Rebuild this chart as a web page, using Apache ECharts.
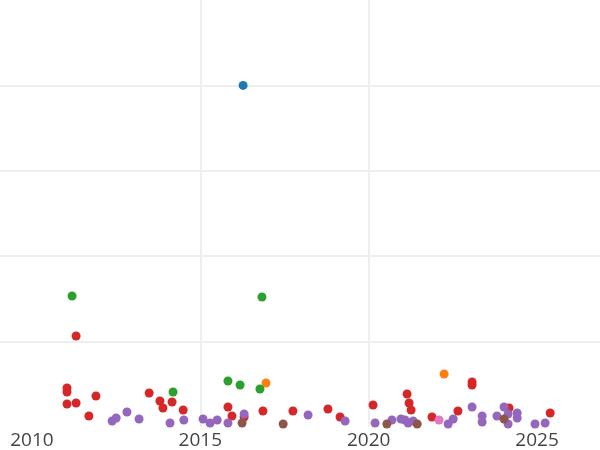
<!DOCTYPE html>
<html>
<head>
<meta charset="utf-8">
<script src="https://cdn.jsdelivr.net/npm/echarts@6/dist/echarts.min.js"></script>
<style>html,body{margin:0;padding:0;background:#fff}#c{width:600px;height:450px}</style>
</head>
<body>
<div id="c"></div>
<script>
// [year, value] pairs
var blueData = [[2016.27, 4.0]];
var orangeData = [[2016.95, 0.515], [2022.24, 0.621]];
var greenData = [[2011.19, 1.534], [2016.83, 1.522], [2014.19, 0.41], [2015.82, 0.539], [2016.18, 0.492], [2016.77, 0.445]];
var redData = [
  [2011.31, 1.066], [2011.04, 0.457], [2011.04, 0.41], [2011.04, 0.269], [2011.31, 0.281],
  [2011.90, 0.363], [2011.69, 0.129], [2013.48, 0.398], [2013.80, 0.304], [2013.89, 0.222],
  [2014.16, 0.293], [2014.49, 0.199], [2015.82, 0.234], [2015.94, 0.129], [2016.30, 0.117],
  [2016.86, 0.187], [2017.75, 0.187], [2018.79, 0.211], [2019.15, 0.117], [2020.13, 0.258],
  [2021.14, 0.386], [2021.20, 0.281], [2021.26, 0.199], [2021.88, 0.117], [2022.65, 0.187],
  [2023.07, 0.527], [2023.07, 0.492], [2024.17, 0.222], [2025.39, 0.164]
];
var purpleData = [
  [2012.38, 0.07], [2012.50, 0.105], [2012.82, 0.176], [2013.18, 0.094], [2014.10, 0.047],
  [2014.51, 0.082], [2015.08, 0.094], [2015.29, 0.047], [2015.50, 0.082], [2015.82, 0.047],
  [2016.30, 0.152], [2018.20, 0.141], [2019.30, 0.07], [2020.19, 0.047], [2020.69, 0.082],
  [2020.96, 0.094], [2021.08, 0.082], [2021.17, 0.047], [2021.32, 0.07], [2022.36, 0.035],
  [2022.51, 0.094], [2023.07, 0.234], [2023.37, 0.129], [2023.37, 0.059], [2023.81, 0.129],
  [2024.02, 0.234], [2024.14, 0.152], [2024.14, 0.035], [2024.41, 0.164], [2024.41, 0.105],
  [2024.94, 0.035], [2025.24, 0.047]
];
var brownData = [[2016.24, 0.047], [2017.46, 0.035], [2020.54, 0.035], [2021.44, 0.035], [2024.02, 0.094]];
var pinkData = [[2022.09, 0.082]];
var xTickYears = [2010, 2015, 2020, 2025];

var colors = ['#1f77b4', '#ff7f0e', '#2ca02c', '#d62728', '#9467bd', '#8c564b', '#e377c2'];
var sets = [blueData, orangeData, greenData, redData, purpleData, brownData, pinkData];

var chart = echarts.init(document.getElementById('c'), null, {renderer: 'canvas'});
chart.setOption({
  animation: false,
  backgroundColor: '#fff',
  grid: {left: 0, right: 0, top: 0, bottom: 23, containLabel: false},
  xAxis: {
    type: 'value', min: 2009.05, max: 2026.87,
    axisLine: {show: false},
    axisTick: {show: false, customValues: xTickYears},
    axisLabel: {customValues: xTickYears, color: '#444', fontFamily: 'Open Sans', fontSize: 19, margin: 4,
      formatter: function (v) { return String(Math.round(v)); }},
    splitLine: {show: true, showMinLine: false, showMaxLine: false, lineStyle: {color: '#eeeeee', width: 2}}
  },
  yAxis: {
    type: 'value', min: 0, max: 5, interval: 1,
    axisLine: {show: false}, axisTick: {show: false}, axisLabel: {show: false},
    splitLine: {show: true, showMinLine: false, showMaxLine: false, lineStyle: {color: '#eeeeee', width: 2}}
  },
  series: sets.map(function (d, i) {
    return {type: 'scatter', data: d, symbolSize: 9, clip: true,
      itemStyle: {color: colors[i], opacity: 1}};
  })
});
</script>
</body>
</html>
